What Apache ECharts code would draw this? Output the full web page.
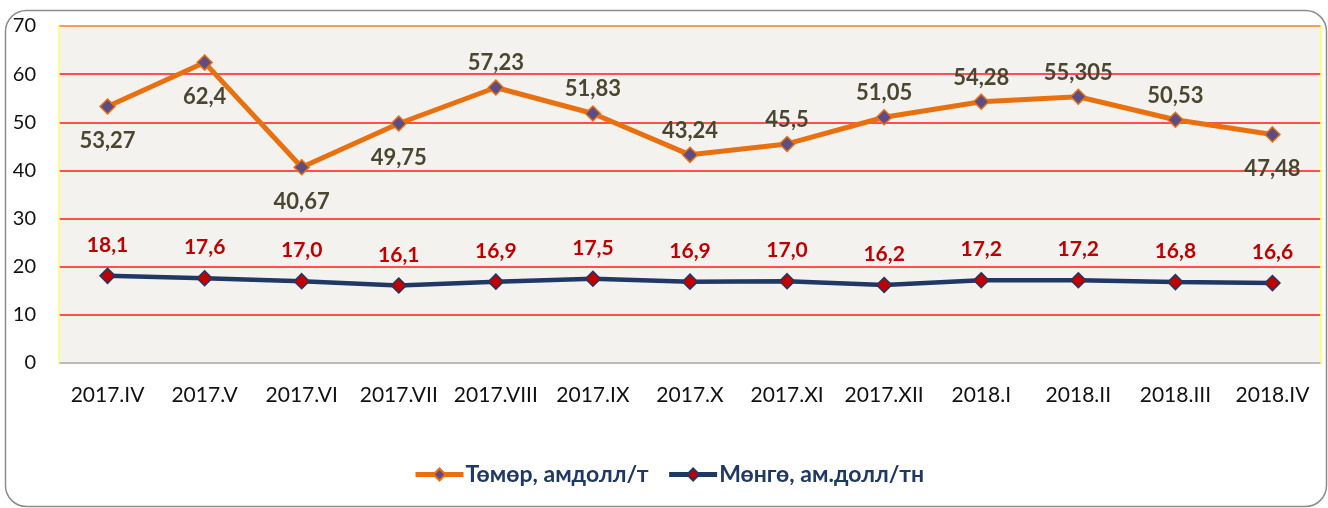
<!DOCTYPE html>
<html>
<head>
<meta charset="utf-8">
<script src="https://cdn.jsdelivr.net/npm/echarts@6/dist/echarts.min.js"></script>
<style>
  html, body { margin: 0; padding: 0; background: #ffffff; }
  #chart { width: 1328px; height: 508px; }
</style>
</head>
<body>
<div id="chart"></div>
<script>
const categories = [
  "2017.IV", "2017.V", "2017.VI", "2017.VII", "2017.VIII", "2017.IX", "2017.X",
  "2017.XI", "2017.XII", "2018.I", "2018.II", "2018.III", "2018.IV",
];
const ironValues = [53.27, 62.4, 40.67, 49.75, 57.23, 51.83, 43.24, 45.5, 51.05, 54.28, 55.305, 50.53, 47.48];
const silverValues = [18.1, 17.6, 17.0, 16.1, 16.9, 17.5, 16.9, 17.0, 16.2, 17.2, 17.2, 16.8, 16.6];
const ironLabelSide = ["bottom", "bottom", "bottom", "bottom", "top", "top", "top", "top", "top", "top", "top", "top", "bottom"];
const yTicks = [0, 10, 20, 30, 40, 50, 60, 70];

const FONT = "Lato, 'Open Sans', sans-serif";
const commaNum = (v, digits) => {
  const s = digits == null ? String(v) : v.toFixed(digits);
  return s.replace(".", ",");
};

const chart = echarts.init(document.getElementById("chart"));

// split line colours: bottom grey, middle red, top orange
const splitColors = yTicks.map((t, i) =>
  i === 0 ? "#A6A6A6" : i === yTicks.length - 1 ? "#F58220" : "#FF1A1A"
);

chart.setOption({
  backgroundColor: "#ffffff",
  animation: false,
  graphic: [
    {
      type: "rect",
      shape: { x: 5.5, y: 10.5, width: 1321, height: 496, r: 21 },
      style: { fill: "none", stroke: "#8C8C8C", lineWidth: 1.5 },
      silent: true,
      z: -10,
    },
  ],
  grid: {
    left: 59,
    right: 7,
    top: 26,
    bottom: 145,
    show: true,
    backgroundColor: "#F4F2EE",
    borderWidth: 0,
  },
  legend: {
    bottom: 17,
    left: 408,
    itemWidth: 48,
    itemHeight: 15,
    itemGap: 18,
    lineStyle: { width: 5 },
    textStyle: { fontFamily: FONT, fontWeight: "bold", fontSize: 23, color: "#1F3864", padding: [0, 0, 0, -3] },
    data: ["Төмөр, амдолл/т", "Мөнгө, ам.долл/тн"],
  },
  xAxis: [
    {
      type: "category",
      data: categories,
      boundaryGap: true,
      axisLine: { show: false },
      axisTick: { show: false },
      axisLabel: { interval: 0, fontFamily: FONT, fontSize: 21, color: "#111", margin: 22 },
    },
    {
      type: "category",
      data: categories,
      position: "top",
      axisLine: { show: false },
      axisTick: { show: false },
      axisLabel: { show: false },
    },
  ],
  yAxis: [
    {
      type: "value",
      min: 0,
      max: 70,
      interval: 10,
      axisLine: { show: true, lineStyle: { color: "#FFFF66", width: 1.5 } },
      axisTick: { show: false },
      axisLabel: { fontFamily: FONT, fontSize: 20, color: "#111", margin: 23 },
      splitLine: { show: true, lineStyle: { color: splitColors, width: 1.5 } },
    },
    {
      type: "value",
      min: 0,
      max: 70,
      interval: 10,
      position: "right",
      axisLine: { show: true, lineStyle: { color: "#FFFF66", width: 1.5 } },
      axisTick: { show: false },
      axisLabel: { show: false },
      splitLine: { show: false },
    },
  ],
  series: [
    {
      name: "Төмөр, амдолл/т",
      type: "line",
      data: ironValues.map((v, i) => ({
        value: v,
        label: {
          position: ironLabelSide[i],
          distance: ironLabelSide[i] === "top" ? 5 : 15,
        },
      })),
      lineStyle: { color: "#E8700F", width: 5 },
      itemStyle: { color: "#5E4C86", borderColor: "#E8700F", borderWidth: 1.5 },
      symbol: "diamond",
      symbolSize: 15,
      label: {
        show: true,
        fontFamily: FONT,
        fontWeight: "bold",
        fontSize: 22,
        color: "#4A4630",
        formatter: (p) => commaNum(p.value),
      },
      z: 3,
    },
    {
      name: "Мөнгө, ам.долл/тн",
      type: "line",
      data: silverValues,
      lineStyle: { color: "#1F3864", width: 4.5 },
      itemStyle: { color: "#C00000", borderColor: "#1F3864", borderWidth: 1.5 },
      symbol: "diamond",
      symbolSize: 15,
      label: {
        show: true,
        position: "top",
        distance: 12,
        fontFamily: FONT,
        fontWeight: "bold",
        fontSize: 21,
        color: "#C00000",
        formatter: (p) => commaNum(p.value, 1),
      },
      z: 2,
    },
  ],
});
</script>
</body>
</html>
